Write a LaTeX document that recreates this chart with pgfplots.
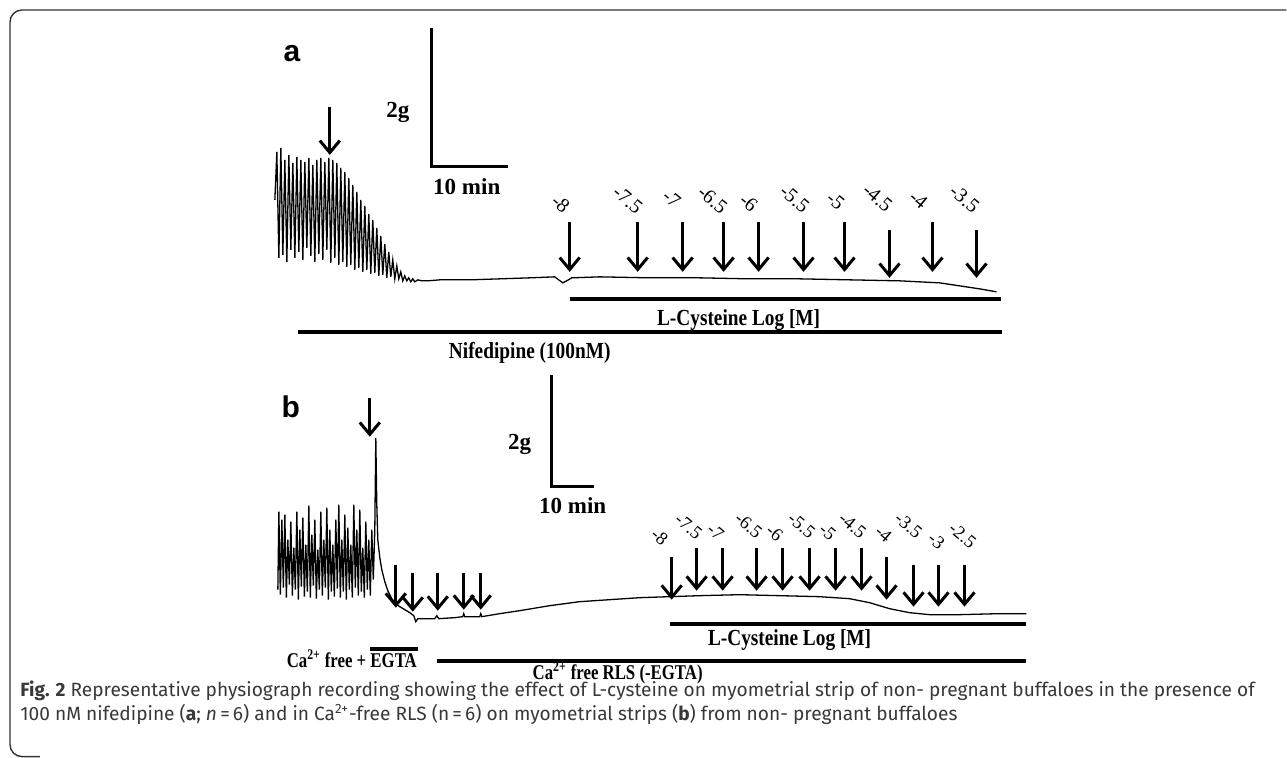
\documentclass[border=0pt]{standalone}
\usepackage{pgfplots}
\pgfplotsset{compat=1.18}
\usepackage{fontspec}
\setmainfont{Liberation Serif}
\newfontfamily\capfont{Fira Sans}
\newfontfamily\labfont{Liberation Sans}
\usetikzlibrary{arrows.meta}

\newlength\capw
\newcommand\capone{\textbf{Fig. 2} Representative physiograph recording showing the effect of L-cysteine on myometrial strip of non- pregnant buffaloes in the presence of}
\newcommand\captwo{100 nM nifedipine (\textbf{a}; \textit{n}\,=\,6) and in Ca\textsuperscript{2+}-free RLS (n\,=\,6) on myometrial strips (\textbf{b}) from non- pregnant buffaloes}
\newcommand\capsize{\capfont\fontsize{9.6}{11}\selectfont}
\newcommand\lbl{\fontsize{11.5}{13}\selectfont\bfseries}

\begin{document}%
\settowidth{\capw}{\capsize\capone}%
\pgfmathsetmacro\capsc{617.5/\capw}%
\begin{tikzpicture}
\begin{axis}[
    scale only axis, width=643.5pt, height=378.5pt,
    xmin=0, xmax=1287, ymin=0, ymax=757, y dir=reverse,
    hide axis, clip=false,
    arr/.style={black, line width=1.6pt, -{Straight Barb[length=6pt,width=10pt,line width=1.5pt]}},
    trace/.style={black, line width=0.65pt},
    bar/.style={black, line width=2pt},
    sbar/.style={black, line width=1.5pt},
]
\newcommand\arrow[3]{\addplot[arr] coordinates {(#1,#2) (#1,#3)};}
\newcommand\conc[3]{\node[rotate=-40, inner sep=0pt, font=\fontsize{10}{11}\selectfont] at (axis cs:#1,#2) {#3};}
\newcommand\concb[3]{\node[rotate=-40, inner sep=0pt, font=\fontsize{9.2}{10}\selectfont] at (axis cs:#1,#2) {#3};}

% keep the whole page
\path (axis cs:0,0) rectangle (axis cs:1287,757);
% frame
\draw[black!80, line width=0.7pt, rounded corners=6pt] (axis cs:1287,10) -- (axis cs:10,10) -- (axis cs:10,757) -- (axis cs:40,757);

% ---------- panel a ----------
\node[font=\labfont\fontsize{15}{16}\selectfont\bfseries] at (axis cs:292,54) {a};
\addplot[sbar] coordinates {(432,28) (432,167) (508,167)};
\node[font=\lbl] at (axis cs:398,112) {2g};
\node[font=\lbl] at (axis cs:467,187) {10 min};

\addplot[trace] coordinates {
(275,200) (277,152) (279,258) (281,148) (283,255) (285,160) (287,262) (289,155) (291,250)
(293,163) (295,258) (297,157) (299,252) (301,160) (303,260) (305,162) (307,248) (309,158)
(311,256) (313,165) (315,262) (317,160) (319,254) (321,158) (323,260) (325,162) (327,250)
(329,158) (331,263) (333,160) (335,258) (337,163) (339,265) (341,168) (343,262) (345,172)
(347,267) (349,178) (351,265) (353,185) (355,270) (357,192) (359,268) (361,200) (363,272)
(365,206) (367,270) (369,214) (371,274) (373,220) (375,273) (377,228) (379,276) (381,236)
(383,275) (385,244) (387,278) (389,252) (391,277) (393,260) (395,279) (397,266) (399,279)
(401,272) (403,281) (405,276) (407,281) (409,278) (411,282) (413,279) (415,282) (418,280)
(422,281) (428,281) (440,280) (470,280) (500,279) (530,278) (555,277) (559,280) (563,283)
(567,281) (572,278) (600,277) (650,278) (700,278) (750,279) (800,279) (850,280) (900,281)
(940,283) (960,286) (980,289) (997,292)
};

\arrow{330}{107}{155}
\arrow{570}{222}{272} \arrow{638}{222}{272} \arrow{683}{222}{272}
\arrow{724}{222}{272} \arrow{759}{222}{272} \arrow{804}{222}{272}
\arrow{845}{222}{272} \arrow{890}{230}{278} \arrow{933}{222}{272}
\arrow{977}{230}{278}
\conc{561}{204}{-8} \conc{628}{200}{-7.5} \conc{672}{199}{-7}
\conc{713}{200}{-6.5} \conc{749}{203}{-6} \conc{795}{199}{-5.5}
\conc{836}{201}{-5} \conc{878}{198}{-4.5} \conc{919}{200}{-4}
\conc{965}{199}{-3.5}

\addplot[bar] coordinates {(570,299) (1002,299)};
\node[font=\lbl] at (axis cs:739,320) {\scalebox{0.84}[1]{L-Cysteine Log [M]}};
\addplot[bar] coordinates {(298,332) (1003,332)};
\node[font=\lbl] at (axis cs:530,353) {\scalebox{0.84}[1]{Nifedipine (100nM)}};

% ---------- panel b ----------
\node[font=\labfont\fontsize{15}{16}\selectfont\bfseries] at (axis cs:291,407) {b};
\addplot[sbar] coordinates {(552,375) (552,487) (594,487)};
\node[font=\lbl] at (axis cs:520,445) {2g};
\node[font=\lbl] at (axis cs:573,506) {10 min};

\addplot[trace] coordinates {
(278,590) (279,512) (280.5,595) (282,520) (283.5,588) (285,515) (286.5,598) (288,540)
(289.5,585) (291,522) (292.5,596) (294,548) (295.5,590) (297,512) (298.5,600) (300,530)
(301.5,587) (303,518) (304.5,597) (306,545) (307.5,592) (309,506) (310.5,598) (312,535)
(313.5,586) (315,520) (316.5,599) (318,550) (319.5,590) (321,512) (322.5,596) (324,540)
(325.5,588) (327,508) (328.5,600) (330,530) (331.5,592) (333,545) (334.5,597) (336,520)
(337.5,589) (339,505) (340.5,598) (342,540) (343.5,592) (345,515) (346.5,600) (348,528)
(349.5,590) (351,545) (352.5,598) (354,505) (355.5,588) (357,530) (358.5,596) (360,510)
(361.5,592) (363,548) (364.5,598) (366,522) (367.5,590) (369,540) (370.5,596) (372,530)
(373.5,580) (375,530) (376,438) (377,505) (378,540) (380,558) (382,570) (385,582)
(388,591) (392,599) (396,604) (400,607) (405,610) (410,613) (414,616) (416,622)
(418,619) (425,619) (435,619) (437,616) (439,619) (455,618) (463,617) (464,614)
(465,617) (480,617) (481,614) (482,617) (500,614) (520,611) (550,606) (580,602)
(610,600) (640,598) (670,597) (700,596) (740,595) (780,596) (820,597) (850,599)
(870,603) (890,609) (910,613) (930,615) (960,615) (1000,614) (1027,614)
};

\arrow{370}{398}{437}
\arrow{396}{565}{608} \arrow{413}{573}{612} \arrow{438}{573}{611}
\arrow{464}{573}{610} \arrow{481}{573}{610}

\arrow{672}{557}{600} \arrow{697}{548}{591} \arrow{723}{548}{591}
\arrow{757}{548}{591} \arrow{783}{548}{591} \arrow{810}{548}{591}
\arrow{836}{548}{591} \arrow{862}{548}{591} \arrow{887}{557}{600}
\arrow{914}{565}{607} \arrow{939}{565}{607} \arrow{965}{565}{607}
\concb{660}{537}{-8} \concb{689}{527}{-7.5} \concb{716}{532}{-7}
\concb{749}{526}{-6.5} \concb{775}{533}{-6} \concb{802}{526}{-5.5}
\concb{828}{532}{-5} \concb{853}{526}{-4.5} \concb{884}{534}{-4}
\concb{909}{526}{-3.5} \concb{937}{541}{-3} \concb{963}{536}{-2.5}

\addplot[bar] coordinates {(670,624) (1027,624)};
\node[font=\lbl] at (axis cs:790,640) {\scalebox{0.84}[1]{L-Cysteine Log [M]}};
\addplot[bar] coordinates {(370,649) (418,649)};
\node[font=\fontsize{10.5}{12}\selectfont\bfseries] at (axis cs:352,659) {\scalebox{0.8}[1]{Ca\textsuperscript{2+} free + EGTA}};
\addplot[bar] coordinates {(437,661) (1027,661)};
\node[font=\fontsize{10.5}{12}\selectfont\bfseries] at (axis cs:618,673) {\scalebox{0.8}[1]{Ca\textsuperscript{2+} free RLS (-EGTA)}};

% ---------- caption ----------
\node[anchor=west, text=black!78, font=\capsize, inner sep=0pt] at (axis cs:20,691) {\scalebox{\capsc}[1]{\capone}};
\node[anchor=west, text=black!78, font=\capsize, inner sep=0pt] at (axis cs:20,715) {\scalebox{\capsc}[1]{\captwo}};
\end{axis}
\end{tikzpicture}%
\end{document}
